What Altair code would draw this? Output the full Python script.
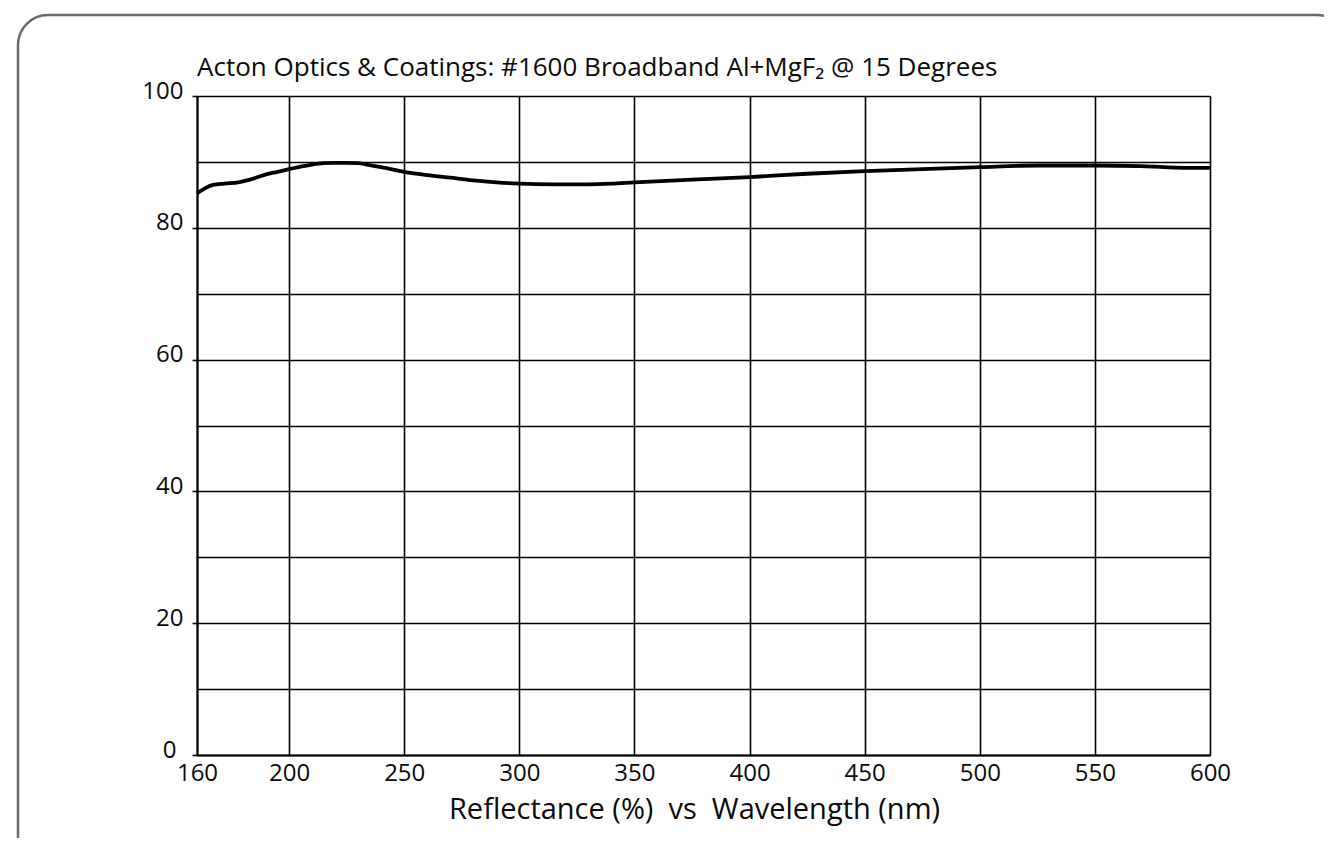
import altair as alt
import pandas as pd

wavelength = [160, 164, 167, 172, 178, 183, 189, 195, 200, 205, 210, 215, 220,
              225, 230, 235, 240, 250, 260, 270, 280, 290, 300, 315, 330, 340,
              350, 375, 400, 425, 450, 475, 500, 525, 550, 570, 580, 590, 600]
reflectance = [85.2, 86.1, 86.5, 86.7, 86.9, 87.3, 88.0, 88.5, 88.9, 89.3, 89.6,
               89.8, 89.85, 89.85, 89.8, 89.5, 89.2, 88.5, 88.0, 87.6, 87.2,
               86.9, 86.7, 86.6, 86.6, 86.7, 86.9, 87.3, 87.7, 88.2, 88.6,
               88.9, 89.2, 89.45, 89.45, 89.35, 89.2, 89.1, 89.1]

x_ticks = [160, 200, 250, 300, 350, 400, 450, 500, 550, 600]
y_grid = list(range(0, 101, 10))

title_text = "Acton Optics & Coatings: #1600 Broadband Al+MgF\u2082 @ 15 Degrees"
x_title = "Reflectance (%)\u00a0\u00a0vs\u00a0\u00a0Wavelength (nm)"

FONT = "Open Sans"
W, H = 1013, 659

df = pd.DataFrame({"wl": wavelength, "r": reflectance})
one = pd.DataFrame({"k": [0]})

frame = alt.Chart(one).mark_rect(
    filled=False, stroke="#6a6a6a", strokeWidth=2.5, cornerRadius=30
).encode(
    x=alt.value(-179), x2=alt.value(1150),
    y=alt.value(-81), y2=alt.value(770),
)

title = alt.Chart(one).mark_text(
    text=title_text, font=FONT, fontSize=26, color="#0a0a0a",
    align="left", baseline="alphabetic"
).encode(x=alt.value(0), y=alt.value(-20))

line = alt.Chart(df).mark_line(
    color="black", strokeWidth=3.8, interpolate="monotone"
).encode(
    x=alt.X("wl:Q",
            scale=alt.Scale(domain=[160, 600], nice=False, zero=False),
            axis=alt.Axis(values=x_ticks, title=x_title, grid=True,
                          ticks=False, labelPadding=6, labelFontSize=24,
                          labelFont=FONT, labelColor="#0a0a0a",
                          titleFont=FONT, titleFontSize=29,
                          titleFontWeight="normal", titleColor="#0a0a0a",
                          titleX=497, titleY=63, titleBaseline="alphabetic",
                          titleAnchor="start", titleAlign="center",
                          domainColor="black", domainWidth=2,
                          gridColor="black", gridWidth=1.6, gridOpacity=1,
                          labelFlush=False, labelOverlap=False)),
    y=alt.Y("r:Q",
            scale=alt.Scale(domain=[0, 100], nice=False),
            axis=alt.Axis(values=y_grid, title=None, grid=True,
                          labelExpr="datum.value % 20 === 0 ? datum.label : ''",
                          tickOpacity={"condition": {"test": "datum.value % 20 === 0", "value": 1}, "value": 0},
                          tickSize=5, tickColor="black", tickWidth=1.6,
                          labelPadding={"condition": {"test": "datum.value === 0", "value": 16}, "value": 9},
                          labelFontSize=24, labelFont=FONT,
                          labelColor="#0a0a0a", labelOffset=-5,
                          domainColor="black", domainWidth=2,
                          gridColor="black", gridWidth=1.6, gridOpacity=1,
                          labelFlush=False, labelOverlap=False)),
)

chart = alt.layer(frame, line, title).properties(
    width=W, height=H,
    autosize=alt.AutoSizeParams(type="none"),
    padding={"left": 189, "top": 88, "right": 114, "bottom": 83},
).configure_view(stroke="black", strokeWidth=1.6).configure(background="white")

chart.save("out.html", embed_options={"renderer": "svg", "actions": False})
